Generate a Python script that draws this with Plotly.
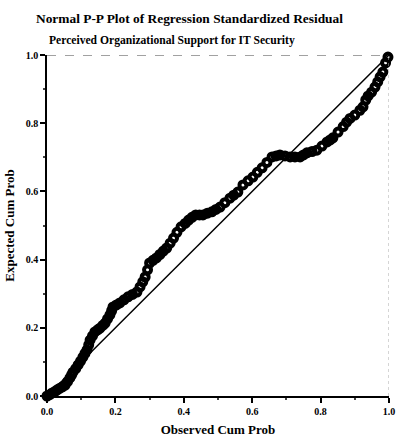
import plotly.graph_objects as go

title_line1 = "Normal P-P Plot of Regression Standardized Residual"
title_line2 = "Perceived Organizational Support for IT Security"
x_title = "Observed Cum Prob"
y_title = "Expected Cum Prob"
tick_vals = [0.0, 0.2, 0.4, 0.6, 0.8, 1.0]
tick_text = ["0.0", "0.2", "0.4", "0.6", "0.8", "1.0"]

observed = [0.000, 0.008, 0.015, 0.023, 0.030, 0.038, 0.045, 0.053, 0.060, 0.067, 0.072,
            0.076, 0.084, 0.091, 0.098, 0.105, 0.111, 0.117, 0.122, 0.126, 0.133, 0.140,
            0.148, 0.155, 0.163, 0.170, 0.177, 0.184, 0.189, 0.193, 0.203, 0.213, 0.225,
            0.237, 0.250, 0.263, 0.272, 0.280, 0.287, 0.294, 0.300, 0.310, 0.320, 0.330,
            0.340, 0.350, 0.360, 0.370, 0.380, 0.392, 0.404, 0.414, 0.424, 0.435, 0.446,
            0.456, 0.469, 0.482, 0.494, 0.506, 0.520, 0.535, 0.546, 0.558, 0.573, 0.588,
            0.602, 0.615, 0.629, 0.643, 0.658, 0.670, 0.681, 0.696, 0.711, 0.725, 0.740,
            0.750, 0.760, 0.775, 0.789, 0.804, 0.819, 0.828, 0.836, 0.851, 0.866, 0.876,
            0.886, 0.900, 0.915, 0.924, 0.932, 0.939, 0.949, 0.959, 0.967, 0.974, 0.982,
            0.990, 0.997]
expected = [0.000, 0.004, 0.009, 0.013, 0.018, 0.023, 0.027, 0.032, 0.042, 0.053, 0.062,
            0.070, 0.080, 0.091, 0.102, 0.114, 0.125, 0.135, 0.150, 0.164, 0.176, 0.188,
            0.194, 0.199, 0.207, 0.214, 0.226, 0.238, 0.250, 0.261, 0.267, 0.273, 0.282,
            0.291, 0.298, 0.305, 0.320, 0.335, 0.349, 0.370, 0.390, 0.398, 0.405, 0.415,
            0.425, 0.434, 0.448, 0.463, 0.480, 0.496, 0.506, 0.516, 0.524, 0.531, 0.531,
            0.531, 0.536, 0.540, 0.547, 0.554, 0.567, 0.580, 0.589, 0.598, 0.619, 0.631,
            0.642, 0.656, 0.669, 0.685, 0.701, 0.704, 0.707, 0.704, 0.701, 0.701, 0.701,
            0.707, 0.713, 0.717, 0.721, 0.733, 0.745, 0.751, 0.757, 0.774, 0.790, 0.803,
            0.814, 0.824, 0.838, 0.848, 0.868, 0.880, 0.891, 0.906, 0.921, 0.936, 0.950,
            0.977, 0.994]

fig = go.Figure()
fig.add_trace(go.Scatter(x=[0, 1], y=[0, 1], mode="lines",
                         line=dict(color="black", width=1.5), hoverinfo="skip",
                         showlegend=False))
fig.add_trace(go.Scatter(x=observed, y=expected, mode="markers",
                         marker=dict(symbol="circle-open", size=7, color="black",
                                     line=dict(color="black", width=4)),
                         cliponaxis=False, showlegend=False))

serif = "Liberation Serif"
axis_common = dict(range=[0, 1], tickvals=tick_vals, ticktext=["<b>" + t + "</b>" for t in tick_text],
                   showgrid=False, zeroline=False, showline=True, automargin=False,
                   linecolor="black", linewidth=1.5, ticks="outside", ticklen=5,
                   tickwidth=1.5, tickcolor="black",
                   tickfont=dict(family=serif, size=10, color="black"),
                   minor=dict(ticks="outside", ticklen=2, tickcolor="#444", dtick=0.1))
fig.update_xaxes(**axis_common,
                 title=dict(text="<b>" + x_title + "</b>", standoff=10,
                            font=dict(family=serif, size=13, color="black")))
fig.update_yaxes(**axis_common,
                 title=dict(text="<b>" + y_title + "</b>", standoff=8,
                            font=dict(family=serif, size=13, color="black")))

fig.add_shape(type="line", xref="x", yref="y", x0=0, x1=1, y0=1, y1=1,
              line=dict(color="#444", width=1.2, dash="dash"))
fig.add_shape(type="line", xref="x", yref="y", x0=1, x1=1, y0=0, y1=1,
              line=dict(color="#aaa", width=1, dash="dot"))

fig.add_annotation(text="<b>" + title_line1 + "</b>", xref="paper", yref="paper",
                   x=(189 - 47) / 342, y=1 + (55 - 18) / 341, showarrow=False,
                   xanchor="center", yanchor="middle",
                   font=dict(family=serif, size=13.4, color="black"))
fig.add_annotation(text="<b>" + title_line2 + "</b>", xref="paper", yref="paper",
                   x=(172 - 47) / 342, y=1 + (55 - 40) / 341, showarrow=False,
                   xanchor="center", yanchor="middle",
                   font=dict(family=serif, size=11.6, color="black"))

fig.update_layout(width=401, height=437, margin=dict(l=47, r=12, t=55, b=41),
                  plot_bgcolor="white", paper_bgcolor="white")
fig.write_html("out.html")
